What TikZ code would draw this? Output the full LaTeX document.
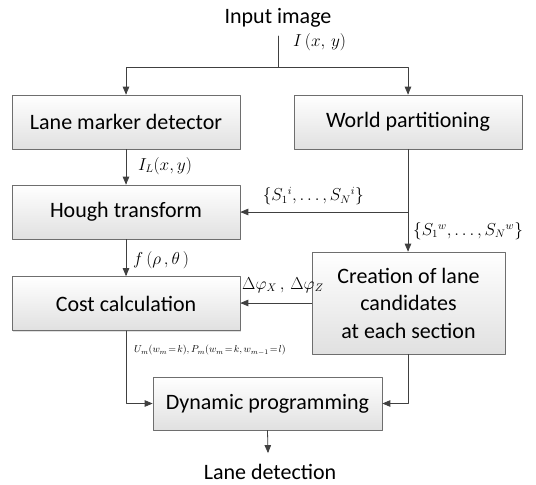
\documentclass[tikz,border=0pt]{standalone}
\usepackage{fontspec}
\setmainfont{Carlito}
\usetikzlibrary{arrows,shadows}

\definecolor{edge}{RGB}{64,64,64}
\definecolor{boxline}{RGB}{110,110,110}
\tikzset{
  stage/.style={draw=boxline,line width=0.8pt,top color=white,bottom color=black!12,
    minimum height=54pt,inner sep=0pt,align=center,
    font=\fontsize{22}{27.5}\selectfont,
    drop shadow={shadow xshift=1.2pt,shadow yshift=-1.2pt,opacity=0.25}},
  plain/.style={inner sep=0pt,font=\fontsize{22}{26}\selectfont},
  lbl/.style={inner sep=0pt,font=\fontsize{16}{18}\selectfont},
  flow/.style={draw=edge,line width=0.8pt}
}

\begin{document}
\begin{tikzpicture}[line cap=round,line join=round,>=triangle 45,x=1pt,y=-1pt]
  \useasboundingbox (0,0) rectangle (536,485);

  \node[plain,anchor=base] (input) at (278,23) {Input image};
  \node[stage,minimum width=228pt] (marker) at (126,122) {Lane marker detector};
  \node[stage,minimum width=228pt] (world) at (408,122) {World partitioning};
  \node[stage,minimum width=228pt] (hough) at (126,212) {Hough transform};
  \node[stage,minimum width=228pt] (cost) at (126,303.5) {Cost calculation};
  \node[stage,minimum width=193pt,minimum height=102pt] (create) at (408.5,303)
    {Creation of lane\\candidates\\at each section};
  \node[stage,minimum width=229pt,minimum height=53pt] (dynamic) at (267.5,403.5) {Dynamic programming};
  \node[plain,anchor=base] (output) at (270,479) {Lane detection};

  % input splits to both branches
  \coordinate (top) at (278,36);
  \coordinate (split) at (278,67);
  \draw[flow] (top) -- (split);
  \draw[flow,->] (split) -| (marker.north);
  \draw[flow,->] (split) -| (world.north);
  \node[lbl,anchor=west] (img) at (293,42) {$I\,(x,\,y)$};

  \draw[flow,->] (marker) -- (hough);
  \node[lbl,anchor=west] (imgL) at (138,166) {$I_L(x,y)$};
  \draw[flow,->] (hough) -- (cost);
  \node[lbl,anchor=west] (acc) at (133,260) {$f\,(\rho\,,\theta\,)$};

  % sections go to Hough and to the candidates
  \coordinate (tap) at (world.south |- hough.east);
  \draw[flow] (world.south) -- (tap);
  \draw[flow,->] (tap) -- (hough.east);
  \draw[flow,->] (tap) -- (tap |- create.north);
  \node[lbl,anchor=east] (secI) at (364,196) {$\{S_1{}^i,\ldots,S_N{}^i\}$};
  \node[lbl,anchor=west] (secW) at (413,231) {$\{S_1{}^w,\ldots,S_N{}^w\}$};

  \draw[flow,->] (create.west) -- (cost.east |- create.west);
  \node[lbl,anchor=west] (phi) at (242,285) {$\Delta\varphi_X\,,\,\Delta\varphi_Z$};

  % costs and candidates meet in the DP
  \draw[flow,->] (cost.south) |- (dynamic.west);
  \draw[flow,->] (create.south) |- (dynamic.east);
  \node[lbl,anchor=west,font=\fontsize{9.8}{11}\selectfont] (pot) at (134,350)
    {$U_m(w_m\!=\!k),P_m(w_m\!=\!k,w_{m-1}\!=\!l)$};
  \coordinate (result) at (268,453);
  \draw[flow,->] (dynamic.south) -- (result);
\end{tikzpicture}
\end{document}
